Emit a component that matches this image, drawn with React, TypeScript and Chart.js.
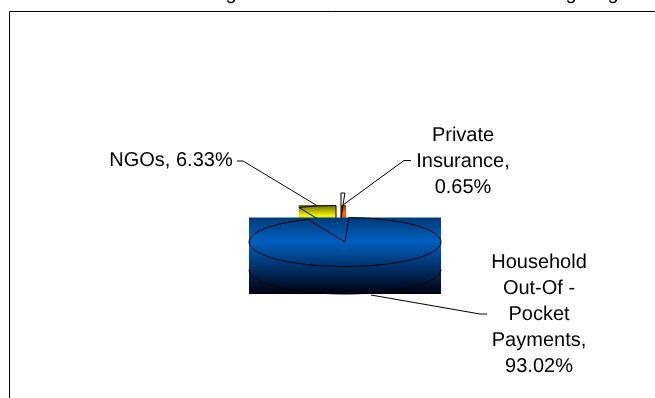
import React, { useEffect, useRef } from "react";
import { Chart, ArcElement, PieController } from "chart.js";

// ---- data ----
const categories = ["NGOs", "Private Insurance", "Household Out-Of - Pocket Payments"];
const shares = [6.33, 0.65, 93.02];
const labelNameLines = [["NGOs,"], ["Private", "Insurance,"], ["Household", "Out-Of -", "Pocket", "Payments,"]];
const clippedTitleGlyphs = ["g", "g", "g"];

// ---- styles and layout ----
const baseColors = ["#f2f200", "#ff6600", "#0060c0"];
const squash = 24.5 / 96;
const depth = 27.5;
const sliceLook = [
  { dx: -9, dy: -12, fillTop: 205, top: "#6a6a00", midAt: 0.2, bottom: "#6a6a00", wall: false },
  { dx: -4, dy: -24.5, fillTop: 205, top: "#8a3800", midAt: 0.2, bottom: "#8a3800", wall: false },
  { dx: 0, dy: 0, fillTop: null, top: "#003a78", midAt: 0.31, bottom: "#000010", wall: true },
];
const FONT = '20px "Liberation Sans", Arial, sans-serif';
const labelLook = [
  { x: 171, y: 160, lead: [[237, 161], [243, 161], [316, 205]] },
  { x: 463, y: 135, lead: [[411, 160.5], [404, 160.5], [343, 205]] },
  { x: 539, y: 262, lead: [[487, 314], [480, 314], [371, 295]] },
];
const titleGlyphX = [231, 571, 613];

class Arc3D extends ArcElement {
  static id = "arc3d";
  draw(ctx: CanvasRenderingContext2D) {
    const p: any = (this as any).getProps(["x", "y", "startAngle", "endAngle", "outerRadius"], true);
    const o: any = (this as any).options;
    const look = sliceLook[(this as any).$context?.dataIndex ?? 0];
    const cx = p.x + look.dx;
    const cy = p.y + look.dy;
    const r = p.outerRadius;
    const ry = r * squash;
    // bounding box of the flattened slice
    const xs = [cx, cx + Math.cos(p.startAngle) * r, cx + Math.cos(p.endAngle) * r];
    const ys = [cy, cy + Math.sin(p.startAngle) * ry, cy + Math.sin(p.endAngle) * ry];
    for (let k = -4; k <= 4; k++) {
      const a = (k * Math.PI) / 2;
      if (a >= p.startAngle && a <= p.endAngle) {
        xs.push(cx + Math.cos(a) * r);
        ys.push(cy + Math.sin(a) * ry);
      }
    }
    const left = Math.min(...xs);
    const right = Math.max(...xs);
    const top = look.fillTop ?? Math.min(...ys);
    const bottom = Math.max(...ys) + depth;
    const g = ctx.createLinearGradient(0, top, 0, bottom);
    g.addColorStop(0, look.top);
    g.addColorStop(look.midAt, o.backgroundColor);
    g.addColorStop(1, look.bottom);
    ctx.save();
    ctx.fillStyle = g;
    ctx.fillRect(left, top, Math.max(right - left, 5), bottom - top);
    ctx.strokeStyle = o.borderColor;
    ctx.lineWidth = o.borderWidth;
    ctx.lineJoin = "round";
    // top face outline
    ctx.beginPath();
    ctx.moveTo(cx, cy);
    ctx.ellipse(cx, cy, r, ry, 0, p.startAngle, p.endAngle);
    ctx.closePath();
    ctx.stroke();
    if (look.wall) {
      ctx.beginPath();
      ctx.ellipse(cx, cy + depth, r, ry, 0, 0, Math.PI);
      ctx.stroke();
    }
    ctx.restore();
  }
}

class Pie3D extends PieController {
  static id = "pie3d";
  static defaults = { dataElementType: "arc3d" };
}
Chart.register(ArcElement, Arc3D, PieController, Pie3D);

const annotate = {
  id: "annotate",
  afterDatasetsDraw(chart: any) {
    const ctx: CanvasRenderingContext2D = chart.ctx;
    const data: number[] = chart.data.datasets[0].data;
    ctx.save();
    // frame of the chart
    ctx.strokeStyle = "#000";
    ctx.lineWidth = 1;
    ctx.beginPath();
    ctx.moveTo(9.5, 398);
    ctx.lineTo(9.5, 11.5);
    ctx.lineTo(655, 11.5);
    ctx.stroke();
    // leader lines
    labelLook.forEach((l) => {
      ctx.beginPath();
      l.lead.forEach(([x, y], i) => (i ? ctx.lineTo(x, y) : ctx.moveTo(x, y)));
      ctx.stroke();
    });
    // labels
    ctx.fillStyle = "#000";
    ctx.font = FONT;
    (ctx as any).textRendering = "geometricPrecision";
    ctx.textAlign = "center";
    ctx.textBaseline = "middle";
    data.forEach((v, i) => {
      const lines = [...labelNameLines[i]];
      const pct = v.toFixed(2) + "%";
      if (lines.length === 1) lines[0] += " " + pct;
      else lines.push(pct);
      lines.forEach((t, j) => ctx.fillText(t, labelLook[i].x, labelLook[i].y + j * 26));
    });
    // title cut off by the top of the page: only descenders remain
    ctx.textBaseline = "alphabetic";
    clippedTitleGlyphs.forEach((t, i) => ctx.fillText(t, titleGlyphX[i], -1));
    ctx.restore();
  },
};

export default function App() {
  const ref = useRef<HTMLCanvasElement>(null);
  useEffect(() => {
    const chart = new Chart(ref.current!, {
      type: "pie3d" as any,
      plugins: [annotate],
      data: {
        labels: categories,
        datasets: [{ data: shares, backgroundColor: baseColors, borderColor: "#000", borderWidth: 1, radius: 96 } as any],
      },
      options: {
        responsive: false,
        animation: false,
        devicePixelRatio: 1,
        rotation: (-shares[0] / 100) * 360,
        layout: { padding: { left: 35, right: 0, top: 86, bottom: 0 } },
        plugins: { legend: { display: false }, tooltip: { enabled: false } },
      } as any,
    });
    return () => chart.destroy();
  }, []);
  return (
    <canvas
      ref={ref}
      width={655}
      height={398}
      style={{ position: "absolute", left: 0, top: 0, width: 655, height: 398, background: "#fff" }}
    />
  );
}
